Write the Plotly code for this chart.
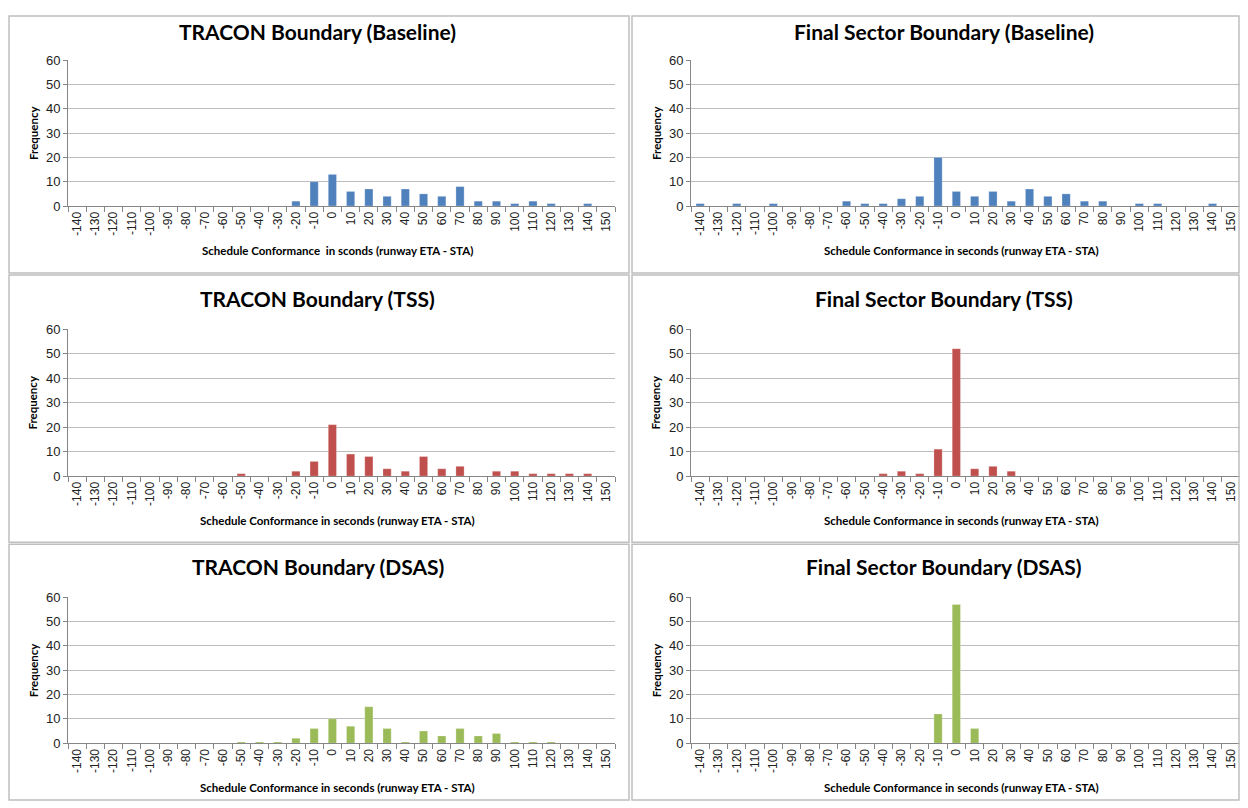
import plotly.graph_objects as go

categories = [str(v) for v in range(-140, 151, 10)]

tracon_baseline = [0,0,0,0,0,0,0,0,0,0,0,0,2,10,13,6,7,4,7,5,4,8,2,2,1,2,1,0,1,0]
final_baseline  = [1,0,1,0,1,0,0,0,2,1,1,3,4,20,6,4,6,2,7,4,5,2,2,0,1,1,0,0,1,0]
tracon_tss      = [0,0,0,0,0,0,0,0,0,1,0,0,2,6,21,9,8,3,2,8,3,4,0,2,2,1,1,1,1,0]
final_tss       = [0,0,0,0,0,0,0,0,0,0,1,2,1,11,52,3,4,2,0,0,0,0,0,0,0,0,0,0,0,0]
tracon_dsas     = [0,0,0,0,0,0,0,0,0,0.5,0.5,0.5,2,6,10,7,15,6,0.5,5,3,6,3,4,0.5,0.5,0.5,0,0,0]
final_dsas      = [0,0,0,0,0,0,0,0,0,0,0,0,0,12,57,6,0,0,0,0,0,0,0,0,0,0,0,0,0,0]

titles = ["TRACON Boundary (Baseline)", "Final Sector Boundary (Baseline)",
          "TRACON Boundary (TSS)", "Final Sector Boundary (TSS)",
          "TRACON Boundary (DSAS)", "Final Sector Boundary (DSAS)"]
xtitles = ["Schedule Conformance  in sconds (runway ETA - STA)",
           "Schedule Conformance in seconds (runway ETA - STA)",
           "Schedule Conformance in seconds (runway ETA - STA)",
           "Schedule Conformance in seconds (runway ETA - STA)",
           "Schedule Conformance in seconds (runway ETA - STA)",
           "Schedule Conformance in seconds (runway ETA - STA)"]
series = [tracon_baseline, final_baseline, tracon_tss, final_tss, tracon_dsas, final_dsas]
colors = ["#4F81BD", "#4F81BD", "#C0504D", "#C0504D", "#9BBB59", "#9BBB59"]

OFFX, OFFY, SY = 8, 15, 0.981  # observed placement of the figure on the page
W, H = 1232, 800
def px(x):
    return min(max((x - OFFX) / W, 0), 1)
def py(y):
    return min(max(1 - ((y - OFFY) / SY) / H, 0), 1)

cols = [(68, 615), (691, 1240)]
rows = [(206, 60, 31, 250), (476, 329, 298, 520), (743, 597, 566, 787)]

FONT = "Lato, 'Open Sans', sans-serif"
TICKFONT = "'Liberation Sans', Arial, sans-serif"
fig = go.Figure()
layout = dict(width=W, height=H, autosize=False, margin=dict(l=0, r=0, t=0, b=0, pad=0),
              plot_bgcolor="white", paper_bgcolor="white", showlegend=False,
              bargap=0.55, font=dict(family=FONT, color="#000"))
annotations = []
shapes = []

for i in range(6):
    r, c = divmod(i, 2)
    x0, x1 = cols[c]
    yb, yt, ty, xty = rows[r]
    n = "" if i == 0 else str(i + 1)
    xa, ya = "x" + n, "y" + n
    fig.add_trace(go.Bar(x=categories, y=series[i], marker=dict(color=colors[i],
                         line=dict(color="rgba(255,255,255,0.5)", width=0.5)),
                         xaxis=xa, yaxis=ya, hoverinfo="x+y"))
    layout["xaxis" + n] = dict(domain=[px(x0), px(x1)], anchor=ya, type="category",
                               tickangle=-90, tickfont=dict(size=12, family=TICKFONT, color="#222"),
                               showline=True, linecolor="#868686", linewidth=1,
                               ticks="outside", ticklen=5, tickcolor="#868686",
                               tickson="boundaries", showgrid=False, fixedrange=True)
    layout["yaxis" + n] = dict(domain=[py(yb), py(yt)], anchor=xa, range=[0, 60],
                               dtick=10, tickfont=dict(size=13, family=TICKFONT, color="#222"),
                               showline=True, linecolor="#868686", linewidth=1,
                               ticks="outside", ticklen=4, tickcolor="#868686",
                               showgrid=True, gridcolor="#bdbdbd", gridwidth=1,
                               zeroline=False, fixedrange=True)
    cx = (x0 + x1) / 2 + (-24 if c == 0 else -22)
    annotations.append(dict(text="<b>" + titles[i] + "</b>", x=px(cx), y=py(ty),
                            xref="paper", yref="paper", showarrow=False,
                            font=dict(size=21, family=FONT), xanchor="center", yanchor="middle"))
    annotations.append(dict(text="<b>" + xtitles[i] + "</b>", x=px((x0 + x1) / 2 - 4), y=py(xty),
                            xref="paper", yref="paper", showarrow=False,
                            font=dict(size=11.5, family=FONT), xanchor="center", yanchor="middle"))
    annotations.append(dict(text="<b>Frequency</b>", x=px(x0 - 35), y=py((yb + yt) / 2),
                            xref="paper", yref="paper", showarrow=False, textangle=-90,
                            font=dict(size=11.5, family=FONT), xanchor="center", yanchor="middle"))

border = dict(type="rect", xref="paper", yref="paper", line=dict(color="#bfbfbf", width=1.5))
for (bx0, by0, bx1, by1) in [(9, 16, 629, 273), (632, 16, 1239, 273),
                             (9, 275, 629, 542), (632, 275, 1239, 542),
                             (9, 544, 629, 800), (632, 544, 1239, 800)]:
    s = dict(border)
    s.update(x0=px(bx0), x1=px(bx1), y0=py(by1), y1=py(by0))
    shapes.append(s)

layout["annotations"] = annotations
layout["shapes"] = shapes
fig.update_layout(**layout)
fig.write_html("out.html")
